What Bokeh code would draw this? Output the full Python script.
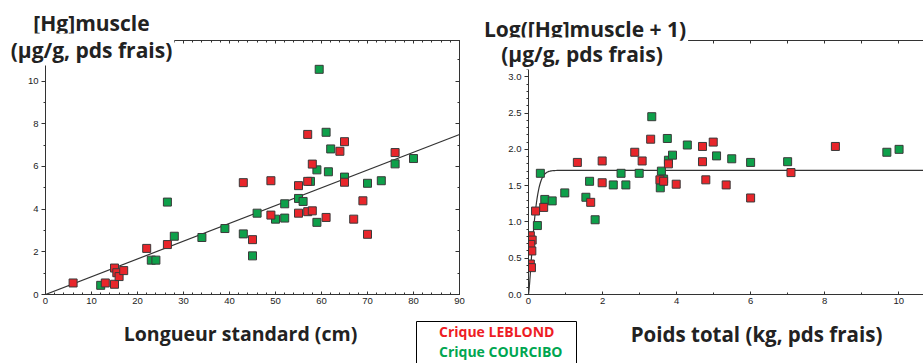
import numpy as np
from bokeh.plotting import figure
from bokeh.models import (Range1d, LinearAxis, SingleIntervalTicker, Label,
                          BoxAnnotation, Legend, LegendItem, CustomJSTickFormatter,
                          NumeralTickFormatter)
from bokeh.layouts import column, row
from bokeh.embed import file_html
from bokeh.resources import INLINE

# ---------------- data ----------------
# Left panel: standard length (cm) vs [Hg] muscle (ug/g fresh weight)
leblond_len = [6, 13, 15, 15, 15.5, 16, 17, 22, 26.5, 43, 45, 49, 49, 55, 55,
               57, 57, 57, 58, 58, 61, 64, 65, 65, 67, 69, 70, 76]
leblond_hg = [0.54, 0.54, 0.48, 1.24, 1.02, 0.84, 1.12, 2.16, 2.34, 5.24, 2.57,
              5.33, 3.72, 5.10, 3.81, 7.50, 5.30, 3.88, 6.11, 3.92, 3.61, 6.71,
              7.16, 5.26, 3.53, 4.39, 2.82, 6.65]
courcibo_len = [12, 23, 24, 26.5, 28, 34, 39, 43, 45, 46, 50, 52, 52, 55, 56,
                57.6, 59, 59, 61, 62, 61.5, 65, 70, 73, 76, 80, 59.5]
courcibo_hg = [0.43, 1.61, 1.61, 4.33, 2.73, 2.67, 3.09, 2.84, 1.81, 3.81, 3.53,
               4.25, 3.58, 4.50, 4.36, 5.30, 5.84, 3.38, 7.60, 6.82, 5.75, 5.50,
               5.21, 5.33, 6.12, 6.37, 10.55]

# Right panel: total weight (kg fresh) vs log([Hg] muscle + 1)
leblond_wt = [1.32, 1.99, 1.99, 1.68, 0.41, 0.19, 2.87, 3.07, 3.30, 3.55, 3.65,
              3.78, 3.99, 4.70, 4.70, 4.79, 4.99, 5.34, 6.0, 7.09, 8.29,
              0.05, 0.10, 0.06, 0.09, 0.05, 0.08]
leblond_log = [1.82, 1.84, 1.54, 1.27, 1.20, 1.15, 1.96, 1.84, 2.14, 1.58, 1.56,
               1.80, 1.52, 2.04, 1.83, 1.58, 2.10, 1.51, 1.33, 1.68, 2.04,
               0.81, 0.75, 0.69, 0.60, 0.42, 0.37]
courcibo_wt = [0.32, 0.24, 0.44, 0.64, 0.98, 1.55, 1.65, 1.80, 2.29, 2.50, 2.63,
               2.99, 3.33, 3.56, 3.59, 3.65, 3.75, 3.78, 3.89, 4.29, 5.08, 5.49,
               6.0, 7.0, 9.68, 10.01]
courcibo_log = [1.67, 0.95, 1.31, 1.29, 1.40, 1.34, 1.56, 1.03, 1.51, 1.67, 1.51,
                1.67, 2.45, 1.47, 1.70, 1.59, 2.15, 1.85, 1.92, 2.06, 1.91, 1.87,
                1.82, 1.83, 1.96, 2.00]

# fitted models
lin_slope = 0.0833
lin_x = [0, 90]
asym, rate, shape = 1.71, 5.8, 1.35

RED = "#e8262b"
GREEN = "#0ea04a"
EDGE = "#3a3a3a"
AX = "#333333"
TXT = "#222222"
TITLE_FONT = "Open Sans"
TICK_FONT = "Liberation Sans"

TOP_H = 316
BOT_H = 47


def style_axis(ax, labels=True, tin=0, tout=4, min_in=0, min_out=2):
    ax.axis_line_color = AX
    ax.axis_line_width = 1
    ax.major_tick_line_color = AX
    ax.minor_tick_line_color = AX
    ax.major_tick_in = tin
    ax.major_tick_out = tout
    ax.minor_tick_in = min_in
    ax.minor_tick_out = min_out
    ax.major_label_text_font = TICK_FONT
    ax.major_label_text_color = TXT
    ax.major_label_text_font_size = "9.5px"
    if labels:
        ax.major_label_standoff = 3
    else:
        ax.formatter = CustomJSTickFormatter(code="return ''")
        ax.major_label_standoff = 0


# ---------------- left panel ----------------
p1 = figure(width=470, height=TOP_H, x_range=Range1d(0, 90), y_range=Range1d(0, 11.9),
            output_backend="svg", toolbar_location=None,
            min_border_left=45, min_border_right=11, min_border_top=38,
            min_border_bottom=TOP_H - 296)
p1.grid.visible = False
p1.outline_line_color = AX
p1.xaxis.ticker = SingleIntervalTicker(interval=10, num_minor_ticks=5)
p1.yaxis.ticker = SingleIntervalTicker(interval=2, num_minor_ticks=2)
style_axis(p1.xaxis[0], True, tin=3, tout=0, min_in=2, min_out=0)
style_axis(p1.yaxis[0], True, tin=0, tout=4, min_in=0, min_out=2)
top1 = LinearAxis(ticker=SingleIntervalTicker(interval=10, num_minor_ticks=5))
style_axis(top1, False, tin=3, tout=0, min_in=2, min_out=0)
p1.add_layout(top1, "above")
right1 = LinearAxis(ticker=SingleIntervalTicker(interval=2, num_minor_ticks=2))
style_axis(right1, False, tin=4, tout=0, min_in=2, min_out=0)
p1.add_layout(right1, "right")

p1.line(lin_x, [lin_slope * v for v in lin_x], line_color=AX, line_width=1.2)
p1.scatter(courcibo_len, courcibo_hg, marker="square", size=8,
           fill_color=GREEN, line_color=EDGE, line_width=1)
p1.scatter(leblond_len, leblond_hg, marker="square", size=8,
           fill_color=RED, line_color=EDGE, line_width=1)

# ---------------- right panel ----------------
p2 = figure(width=453, height=TOP_H, x_range=Range1d(0, 10.67), y_range=Range1d(0, 3.5),
            output_backend="svg", toolbar_location=None,
            min_border_left=58, min_border_right=0, min_border_top=40,
            min_border_bottom=TOP_H - 294)
p2.grid.visible = False
p2.outline_line_color = None
p2.xaxis.ticker = SingleIntervalTicker(interval=2, num_minor_ticks=2)
p2.yaxis.ticker = SingleIntervalTicker(interval=0.5, num_minor_ticks=5)
style_axis(p2.xaxis[0], True, tin=3, tout=0, min_in=2, min_out=0)
style_axis(p2.yaxis[0], True, tin=0, tout=4, min_in=0, min_out=2)
p2.yaxis.formatter = NumeralTickFormatter(format="0.0")
p2.yaxis.major_label_overrides = {3.5: ""}
top2 = LinearAxis(ticker=SingleIntervalTicker(interval=1, num_minor_ticks=0))
style_axis(top2, False, tin=3, tout=0, min_in=0, min_out=0)
p2.add_layout(top2, "above")

cx = np.linspace(0, 10.67, 600)
cy = asym * (1 - np.exp(-(rate * cx) ** shape))
p2.line(cx, cy, line_color=AX, line_width=1.2)
p2.scatter(courcibo_wt, courcibo_log, marker="square", size=8,
           fill_color=GREEN, line_color=EDGE, line_width=1)
p2.scatter(leblond_wt, leblond_log, marker="square", size=8,
           fill_color=RED, line_color=EDGE, line_width=1)

# ---------------- bottom strip: axis titles + legend ----------------
p3 = figure(width=923, height=BOT_H, x_range=Range1d(0, 923), y_range=Range1d(0, BOT_H),
            output_backend="svg", toolbar_location=None, min_border=0,
            x_axis_location=None, y_axis_location=None)
p3.grid.visible = False
p3.outline_line_color = None


def strip_y(page_y):
    return TOP_H + BOT_H - page_y


p3.add_layout(Label(x=240, y=strip_y(333), text="Longueur standard (cm)",
                    text_align="center", text_baseline="middle",
                    text_font=TITLE_FONT, text_font_size="19.5px",
                    text_font_style="bold", text_color=TXT))
p3.add_layout(Label(x=756, y=strip_y(333), text="Poids total (kg, pds frais)",
                    text_align="center", text_baseline="middle",
                    text_font=TITLE_FONT, text_font_size="20.5px",
                    text_font_style="bold", text_color=TXT))

p3.add_layout(BoxAnnotation(left=416, right=576, top=strip_y(321), bottom=strip_y(368),
                            fill_alpha=0, line_color="black", line_alpha=1,
                            line_width=1))

r_red = p3.quad(left=[], right=[], top=[], bottom=[], fill_color=RED, line_color=EDGE)
r_green = p3.quad(left=[], right=[], top=[], bottom=[], fill_color=GREEN, line_color=EDGE)


def make_legend(label, rend, color, loc):
    return Legend(items=[LegendItem(label=label, renderers=[rend])], location=loc,
                  label_text_font=TITLE_FONT, label_text_font_size="14px",
                  label_text_font_style="bold", label_text_color=color,
                  glyph_width=14, glyph_height=16, label_standoff=5,
                  label_height=16, padding=0, margin=0, spacing=0,
                  border_line_color=None, background_fill_alpha=0)


p3.add_layout(make_legend("Crique LEBLOND", r_red, "#ee1c25", (420, strip_y(341))))
p3.add_layout(make_legend("Crique COURCIBO", r_green, "#00a651", (420, strip_y(361))))

# ---------------- transparent overlay carrying the y-axis titles ----------------
OV_H = 70
pt = figure(width=923, height=OV_H, x_range=Range1d(0, 923), y_range=Range1d(0, OV_H),
            output_backend="svg", toolbar_location=None, min_border=0,
            x_axis_location=None, y_axis_location=None,
            styles={"position": "absolute", "top": "0px", "left": "0px",
                    "z-index": "10"})
pt.grid.visible = False
pt.outline_line_color = None
pt.border_fill_color = None
pt.background_fill_color = None


def title_label(x, y, text, bg=True):
    return Label(x=x, y=y, x_units="canvas", y_units="canvas", text=text,
                 text_align="center", text_baseline="middle",
                 text_font=TITLE_FONT, text_font_size="21px",
                 text_font_style="bold", text_color=TXT,
                 background_fill_color="white" if bg else None, padding=2)


pt.add_layout(title_label(91, 22, "[Hg]muscle", bg=False))
pt.add_layout(title_label(91, 49, "(µg/g, pds frais)"))
pt.add_layout(title_label(584.5, 28, "Log([Hg]muscle + 1)"))
pt.add_layout(title_label(581.5, 53, "(µg/g, pds frais)"))

layout = column(row(p1, p2), p3)
open("out.html", "w").write(file_html([pt, layout], INLINE))
